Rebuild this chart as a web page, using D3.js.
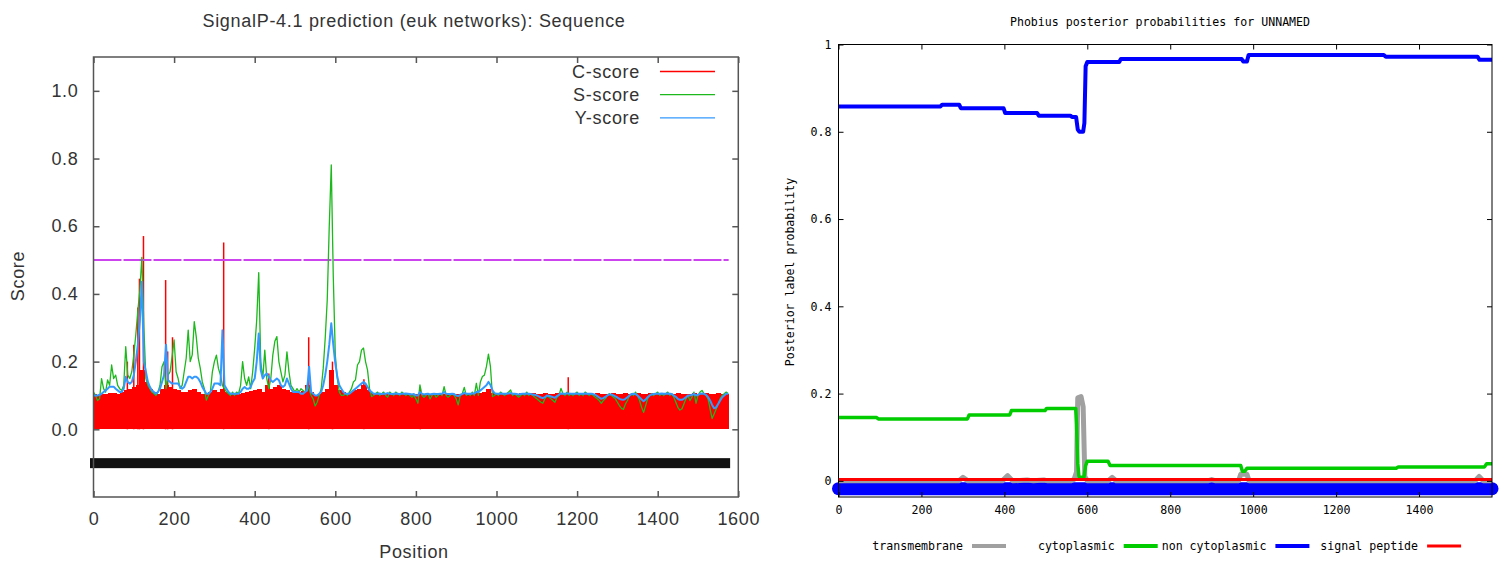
<!DOCTYPE html>
<html><head><meta charset="utf-8">
<script src="https://cdn.jsdelivr.net/npm/d3@7"></script>
<style>body{margin:0;background:#fff}svg{display:block}</style>
</head><body>
<svg id="c" width="1504" height="565"></svg>
<script>
// ---------------- DATA ----------------
const seqLen = 1576;

// SignalP C-score baseline, one value per 10 positions (0..1570)
const cBase = [
 0.105,0.1,0.105,0.103,0.106,0.108,0.105,0.11,0.115,0.12,
 0.125,0.13,0.175,0.14,0.12,0.11,0.105,0.12,0.13,0.125,
 0.12,0.115,0.11,0.11,0.115,0.12,0.11,0.105,0.105,0.11,
 0.115,0.11,0.12,0.11,0.105,0.106,0.105,0.108,0.11,0.112,
 0.115,0.12,0.11,0.13,0.12,0.125,0.13,0.12,0.115,0.11,
 0.108,0.11,0.112,0.13,0.11,0.1,0.105,0.11,0.12,0.175,
 0.13,0.115,0.11,0.108,0.11,0.115,0.12,0.13,0.115,0.108,
 0.105,0.106,0.104,0.106,0.105,0.104,0.106,0.105,0.104,0.105,
 0.104,0.106,0.105,0.104,0.105,0.106,0.105,0.104,0.106,0.105,
 0.104,0.105,0.106,0.105,0.104,0.106,0.108,0.11,0.12,0.108,
 0.105,0.104,0.106,0.105,0.104,0.105,0.106,0.104,0.105,0.106,
 0.104,0.105,0.106,0.104,0.105,0.106,0.105,0.104,0.106,0.105,
 0.104,0.105,0.106,0.105,0.104,0.106,0.105,0.104,0.105,0.106,
 0.104,0.105,0.106,0.104,0.105,0.106,0.105,0.104,0.106,0.105,
 0.104,0.105,0.106,0.105,0.104,0.106,0.105,0.104,0.105,0.106,
 0.104,0.105,0.106,0.104,0.105,0.106,0.105,0.104
];
// C-score single-position spikes [position, score]
const cSpikes = [[84,0.2],[100,0.25],[110,0.36],[114,0.445],[124,0.571],[179,0.441],[184,0.23],[196,0.272],
 [323,0.552],[435,0.165],[534,0.272],[593,0.2],[671,0.148],[811,0.121],[1178,0.154]];

// S-score, one value per 5 positions (0..1575)
const sScore = [
 0.11,0.1,0.085,0.09,0.15,0.12,0.11,0.146,0.13,0.19,0.15,0.16,0.13,0.12,0.115,0.13,0.244,0.16,0.15,0.17,
 0.22,0.28,0.35,0.41,0.508,0.3,0.15,0.13,0.12,0.11,0.105,0.1,0.11,0.13,0.185,0.2,0.12,0.16,0.17,0.215,
 0.264,0.17,0.15,0.12,0.13,0.17,0.21,0.293,0.2,0.22,0.318,0.273,0.21,0.18,0.14,0.12,0.086,0.1,0.11,0.17,
 0.2,0.219,0.18,0.16,0.13,0.12,0.11,0.105,0.1,0.11,0.1,0.11,0.105,0.13,0.2,0.15,0.13,0.155,0.12,0.17,
 0.24,0.323,0.463,0.2,0.15,0.234,0.15,0.12,0.15,0.22,0.26,0.274,0.2,0.17,0.14,0.16,0.229,0.17,0.13,0.12,
 0.11,0.12,0.11,0.12,0.115,0.11,0.13,0.12,0.1,0.09,0.069,0.08,0.1,0.12,0.18,0.27,0.382,0.6,0.781,0.45,
 0.22,0.15,0.11,0.1,0.1,0.105,0.1,0.11,0.12,0.14,0.146,0.19,0.2,0.234,0.24,0.2,0.175,0.12,0.097,0.1,
 0.105,0.11,0.1,0.105,0.11,0.1,0.095,0.11,0.105,0.1,0.11,0.105,0.1,0.11,0.105,0.1,0.105,0.1,0.095,0.1,
 0.09,0.077,0.131,0.1,0.095,0.1,0.105,0.09,0.1,0.105,0.095,0.1,0.105,0.1,0.126,0.1,0.095,0.1,0.105,0.1,
 0.09,0.072,0.1,0.105,0.124,0.1,0.105,0.1,0.11,0.1,0.136,0.1,0.14,0.156,0.16,0.185,0.222,0.185,0.097,0.1,
 0.105,0.1,0.11,0.105,0.1,0.105,0.11,0.116,0.1,0.105,0.1,0.095,0.1,0.105,0.1,0.11,0.1,0.105,0.1,0.095,
 0.09,0.085,0.08,0.077,0.09,0.1,0.095,0.09,0.085,0.08,0.095,0.1,0.121,0.105,0.1,0.11,0.1,0.105,0.1,0.105,
 0.11,0.1,0.105,0.1,0.11,0.105,0.1,0.105,0.1,0.095,0.09,0.085,0.077,0.085,0.09,0.1,0.105,0.1,0.095,0.09,
 0.08,0.07,0.062,0.059,0.075,0.085,0.1,0.105,0.1,0.11,0.1,0.085,0.065,0.05,0.07,0.09,0.1,0.105,0.1,0.105,
 0.11,0.1,0.105,0.1,0.105,0.11,0.1,0.105,0.095,0.08,0.065,0.057,0.06,0.075,0.09,0.1,0.085,0.095,0.11,0.077,
 0.1,0.11,0.115,0.105,0.1,0.09,0.06,0.032,0.045,0.06,0.075,0.09,0.1,0.105,0.11,0.105
];

// Y-score, one value per 5 positions (0..1575)
const yScore = [
 0.1,0.1,0.1,0.102,0.105,0.11,0.115,0.12,0.126,0.126,0.126,0.12,0.115,0.11,0.11,0.12,0.155,0.14,0.135,0.14,
 0.16,0.2,0.25,0.32,0.436,0.2,0.17,0.14,0.125,0.115,0.11,0.105,0.11,0.12,0.14,0.16,0.25,0.145,0.14,0.135,
 0.135,0.135,0.135,0.125,0.12,0.125,0.14,0.155,0.155,0.15,0.155,0.155,0.15,0.14,0.125,0.115,0.105,0.105,0.11,0.12,
 0.135,0.135,0.135,0.13,0.293,0.13,0.12,0.11,0.105,0.105,0.105,0.105,0.105,0.11,0.12,0.125,0.12,0.12,0.125,0.14,
 0.15,0.2,0.283,0.175,0.15,0.16,0.165,0.155,0.145,0.14,0.145,0.15,0.145,0.13,0.125,0.13,0.15,0.135,0.12,0.11,
 0.11,0.11,0.11,0.105,0.105,0.11,0.115,0.185,0.11,0.105,0.1,0.1,0.105,0.11,0.13,0.16,0.2,0.25,0.313,0.25,
 0.195,0.155,0.13,0.12,0.11,0.105,0.105,0.105,0.11,0.115,0.12,0.125,0.13,0.135,0.14,0.135,0.125,0.115,0.11,0.105,
 0.105,0.105,0.106,0.104,0.105,0.105,0.107,0.105,0.104,0.105,0.106,0.105,0.104,0.105,0.105,0.106,0.105,0.104,0.103,0.104,
 0.1,0.1,0.11,0.105,0.103,0.104,0.105,0.103,0.104,0.105,0.104,0.104,0.105,0.105,0.11,0.105,0.104,0.104,0.105,0.104,
 0.1,0.098,0.102,0.104,0.108,0.105,0.105,0.105,0.106,0.106,0.11,0.11,0.115,0.12,0.125,0.13,0.14,0.131,0.115,0.107,
 0.105,0.105,0.106,0.105,0.105,0.105,0.106,0.107,0.105,0.105,0.104,0.103,0.104,0.105,0.105,0.106,0.105,0.104,0.103,0.102,
 0.1,0.097,0.094,0.092,0.095,0.1,0.099,0.097,0.095,0.093,0.098,0.102,0.106,0.105,0.105,0.106,0.106,0.105,0.105,0.105,
 0.106,0.105,0.105,0.105,0.106,0.105,0.105,0.105,0.104,0.102,0.098,0.094,0.09,0.092,0.096,0.1,0.103,0.103,0.1,0.097,
 0.094,0.09,0.088,0.087,0.09,0.095,0.1,0.104,0.105,0.104,0.1,0.094,0.088,0.083,0.088,0.095,0.1,0.103,0.104,0.105,
 0.105,0.105,0.106,0.105,0.105,0.106,0.105,0.104,0.1,0.096,0.09,0.087,0.087,0.09,0.095,0.1,0.1,0.102,0.105,0.1,
 0.102,0.105,0.106,0.105,0.102,0.095,0.085,0.072,0.062,0.065,0.075,0.085,0.095,0.1,0.105,0.105
];

const cutoff = 0.5;
const leftLegend = ["C-score","S-score","Y-score"];
const leftColors = ["#ff0000","#1cb81c","#3399ff"];
const leftXTicks = [0,200,400,600,800,1000,1200,1400,1600];
const leftYTicks = [0,0.2,0.4,0.6,0.8,1.0];

// Phobius posterior probabilities, [position, probability] breakpoints
const nonCyto = [[0,0.858],[246,0.858],[250,0.862],[291,0.862],[295,0.854],[398,0.854],[402,0.843],[479,0.843],
 [483,0.837],[559,0.837],[563,0.834],[573,0.834],[577,0.805],[581,0.8],[590,0.8],[593,0.82],[596,0.95],[600,0.96],
 [677,0.96],[681,0.967],[972,0.967],[976,0.961],[985,0.961],[989,0.976],[1315,0.976],[1320,0.972],[1541,0.972],
 [1546,0.965],[1576,0.965]];
const cyto = [[0,0.145],[92,0.145],[96,0.142],[311,0.142],[315,0.151],[413,0.151],[417,0.161],[498,0.161],[502,0.166],
 [572,0.166],[574,0.13],[577,0.04],[580,0.008],[592,0.008],[596,0.035],[600,0.045],[650,0.045],[655,0.035],[970,0.035],
 [974,0.022],[980,0.022],[985,0.029],[1345,0.029],[1350,0.032],[1558,0.032],[1563,0.039],[1576,0.039]];
const transmem = [[0,0],[290,0],[300,0.008],[312,0],[395,0],[408,0.012],[420,0],[455,0.002],[470,0],[495,0.002],[505,0],
 [560,0],[568,0.003],[574,0.02],[577,0.19],[585,0.193],[590,0.17],[594,0.01],[600,0],[650,0],[660,0.008],[670,0],
 [890,0],[900,0.003],[910,0],[965,0],[970,0.015],[985,0.015],[990,0],[1535,0],[1545,0.01],[1555,0],[1576,0]];
const sigPep = [[0,0.003],[1576,0.003]];
const topology = [[0,-0.018],[1576,-0.018]];
const rightLegend = ["transmembrane","cytoplasmic","non cytoplasmic","signal peptide"];
const rightColors = ["#a0a0a0","#00cc00","#0000ff","#ff0000"];
const rightXTicks = [0,200,400,600,800,1000,1200,1400];
const rightYTicks = [0,0.2,0.4,0.6,0.8,1];

// ---------------- LEFT: SignalP ----------------
const svg = d3.select("#c");
const LF = "'Liberation Sans', Arial, sans-serif";
const L = svg.append("g").attr("font-family", LF).attr("letter-spacing","0.7px");
const xL = d3.scaleLinear().domain([0,1600]).range([93.5,738.3]);
const yL = d3.scaleLinear().domain([-0.2,1.1]).range([497,57]);

L.append("g").attr("shape-rendering","crispEdges").selectAll("rect").data(cBase).join("rect")
  .attr("x",(d,i)=>xL(Math.max(0,i*10-5)))
  .attr("width",(d,i)=>xL(Math.min(seqLen,i*10+5))-xL(Math.max(0,i*10-5))+1)
  .attr("y",d=>yL(d)).attr("height",d=>yL(0)-yL(d)).attr("fill",leftColors[0]);
L.append("g").selectAll("line").data(cSpikes).join("line")
  .attr("x1",d=>xL(d[0])).attr("x2",d=>xL(d[0]))
  .attr("y1",yL(0)).attr("y2",d=>yL(d[1]))
  .attr("stroke",leftColors[0]).attr("stroke-width",1.5);

L.append("line").attr("x1",xL(0)).attr("x2",xL(seqLen))
  .attr("y1",yL(cutoff)).attr("y2",yL(cutoff))
  .attr("stroke","#cc44ee").attr("stroke-width",2).attr("stroke-dasharray","28,2");

const lineS = d3.line().x((d,i)=>xL(i*5)).y(d=>yL(d));
L.append("path").attr("d",lineS(sScore)).attr("fill","none")
  .attr("stroke",leftColors[1]).attr("stroke-width",1.3).attr("stroke-linejoin","round");
L.append("path").attr("d",lineS(yScore)).attr("fill","none")
  .attr("stroke",leftColors[2]).attr("stroke-width",2).attr("stroke-linejoin","round");

// sequence letters band at score -0.1
L.append("rect").attr("x",xL(0)-3.5).attr("width",xL(seqLen)-xL(0)+5)
  .attr("y",yL(-0.1)-5).attr("height",10).attr("fill","#111");

// frame + ticks
const axC = "#555";
function styleAx(g){ g.select(".domain").remove(); g.selectAll(".tick line").attr("stroke",axC).attr("stroke-width",1.5);
  g.selectAll("text").attr("fill","#333").attr("font-size",18).attr("font-family",LF); }
L.append("g").attr("transform","translate(0,497)")
  .call(d3.axisBottom(xL).tickValues(leftXTicks).tickSizeInner(-6).tickSizeOuter(0).tickPadding(15).tickFormat(d3.format("d")))
  .call(styleAx);
L.append("g").attr("transform","translate(0,57)")
  .call(d3.axisTop(xL).tickValues(leftXTicks).tickSizeInner(-6).tickSizeOuter(0).tickFormat(""))
  .call(styleAx);
L.append("g").attr("transform","translate(93.5,0)")
  .call(d3.axisLeft(yL).tickValues(leftYTicks).tickSizeInner(-6).tickSizeOuter(0).tickPadding(15).tickFormat(d3.format(".1f")))
  .call(styleAx);
L.append("g").attr("transform","translate(738.3,0)")
  .call(d3.axisRight(yL).tickValues(leftYTicks).tickSizeInner(-6).tickSizeOuter(0).tickFormat(""))
  .call(styleAx);
L.append("rect").attr("x",93.5).attr("y",57).attr("width",738.3-93.5).attr("height",440)
  .attr("fill","none").attr("stroke",axC).attr("stroke-width",1.5);

// legend
leftLegend.forEach((n,i)=>{
  const y = 71.5 + i*23.2;
  L.append("text").attr("x",640).attr("y",y+6.5).attr("text-anchor","end").attr("font-size",18).attr("fill","#333").text(n);
  L.append("line").attr("x1",660).attr("x2",715).attr("y1",y).attr("y2",y).attr("stroke",leftColors[i]).attr("stroke-width",1.3);
});
L.append("text").attr("x",414).attr("y",26.5).attr("text-anchor","middle").attr("font-size",18).attr("fill","#333")
  .text("SignalP-4.1 prediction (euk networks): Sequence");
L.append("text").attr("transform","translate(24,276) rotate(-90)").attr("text-anchor","middle").attr("font-size",18).attr("fill","#333").text("Score");
L.append("text").attr("x",414).attr("y",558).attr("text-anchor","middle").attr("font-size",18).attr("fill","#333").text("Position");

// ---------------- RIGHT: Phobius ----------------
const RF = "'DejaVu Sans Mono', monospace";
const R = svg.append("g").attr("font-family",RF);
const xR = d3.scaleLinear().domain([0,seqLen]).range([838.5,1492]);
const yR = d3.scaleLinear().domain([-0.037,1]).range([497,44.5]);
const lineR = d3.line().x(d=>xR(d[0])).y(d=>yR(d[1]));

R.append("path").attr("d",lineR(topology)).attr("stroke","#0000ff").attr("stroke-width",13).attr("stroke-linecap","round").attr("fill","none");
R.append("path").attr("d",lineR(transmem)).attr("stroke",rightColors[0]).attr("stroke-width",5).attr("stroke-linejoin","round").attr("fill","none");
R.append("path").attr("d",lineR(cyto)).attr("stroke",rightColors[1]).attr("stroke-width",3.5).attr("stroke-linejoin","round").attr("fill","none");
R.append("path").attr("d",lineR(nonCyto)).attr("stroke",rightColors[2]).attr("stroke-width",4).attr("stroke-linejoin","round").attr("fill","none");
R.append("path").attr("d",lineR(sigPep)).attr("stroke",rightColors[3]).attr("stroke-width",3).attr("fill","none");

function styleR(g){ g.select(".domain").remove(); g.selectAll(".tick line").attr("stroke","#000").attr("stroke-width",1);
  g.selectAll("text").attr("fill","#000").attr("font-size",11.6).attr("font-family",RF); }
R.append("g").attr("transform","translate(0,497)")
  .call(d3.axisBottom(xR).tickValues(rightXTicks).tickSizeInner(-5).tickSizeOuter(0).tickPadding(9).tickFormat(d3.format("d")))
  .call(styleR);
R.append("g").attr("transform","translate(0,44.5)")
  .call(d3.axisTop(xR).tickValues(rightXTicks).tickSizeInner(-5).tickSizeOuter(0).tickFormat(""))
  .call(styleR);
R.append("g").attr("transform","translate(838.5,0)")
  .call(d3.axisLeft(yR).tickValues(rightYTicks).tickSizeInner(-5).tickSizeOuter(0).tickPadding(7).tickFormat(d=>d===0?"0":d===1?"1":d3.format(".1f")(d)))
  .call(styleR);
R.append("g").attr("transform","translate(1492,0)")
  .call(d3.axisRight(yR).tickValues(rightYTicks).tickSizeInner(-5).tickSizeOuter(0).tickFormat(""))
  .call(styleR);
R.append("rect").attr("x",838.5).attr("y",44.5).attr("width",1492-838.5).attr("height",497-44.5)
  .attr("fill","none").attr("stroke","#000").attr("stroke-width",1);

R.append("text").attr("x",1160).attr("y",26).attr("text-anchor","middle").attr("font-size",11.6).attr("fill","#000")
  .text("Phobius posterior probabilities for UNNAMED");
R.append("text").attr("transform","translate(794,272) rotate(-90)").attr("text-anchor","middle").attr("font-size",11.6).attr("fill","#000")
  .text("Posterior label probability");
rightLegend.forEach((n,i)=>{
  const xe = 963 + i*151.7;
  R.append("text").attr("x",xe).attr("y",550).attr("text-anchor","end").attr("font-size",11.6).attr("fill","#000").text(n);
  R.append("line").attr("x1",xe+9).attr("x2",xe+43).attr("y1",546).attr("y2",546)
    .attr("stroke",rightColors[i]).attr("stroke-width",i===3?3:4);
});
</script></body></html>
